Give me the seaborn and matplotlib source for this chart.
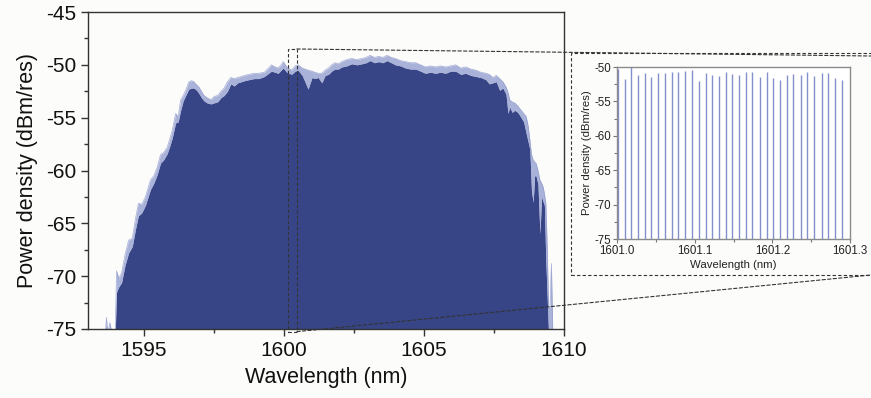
import numpy as np
import pandas as pd
import matplotlib
matplotlib.use("Agg")
import matplotlib.pyplot as plt
import seaborn as sns
from matplotlib.patches import Rectangle, ConnectionPatch
from matplotlib.ticker import MultipleLocator, FixedLocator

# ---------------- data ----------------
wavelength = [1593.50, 1593.62, 1593.66, 1593.70, 1593.78, 1593.86, 1593.97, 1594.02, 1594.10, 1594.20,
              1594.32, 1594.45, 1594.58, 1594.70, 1594.80, 1594.92, 1595.05, 1595.23, 1595.35, 1595.47,
              1595.59, 1595.70, 1595.83, 1595.92, 1596.01, 1596.13, 1596.22, 1596.31, 1596.40, 1596.49,
              1596.60, 1596.70, 1596.78, 1596.88, 1596.96, 1597.05, 1597.14, 1597.25, 1597.39, 1597.50,
              1597.63, 1597.75, 1597.86, 1597.98, 1598.10, 1598.22, 1598.35, 1598.47, 1598.59, 1598.75,
              1598.94, 1599.10, 1599.30, 1599.45, 1599.55, 1599.68, 1599.79, 1599.90, 1599.97, 1600.10,
              1600.27, 1600.40, 1600.50, 1600.65, 1600.86, 1601.00, 1601.10, 1601.22, 1601.35, 1601.47,
              1601.59, 1601.70, 1601.82, 1601.94, 1602.06, 1602.24, 1602.42, 1602.60, 1602.78, 1602.93,
              1603.08, 1603.23, 1603.38, 1603.53, 1603.68, 1603.83, 1603.98, 1604.16, 1604.34, 1604.52,
              1604.70, 1604.88, 1605.05, 1605.23, 1605.41, 1605.59, 1605.77, 1605.95, 1606.13, 1606.31,
              1606.49, 1606.67, 1606.85, 1607.03, 1607.21, 1607.33, 1607.46, 1607.58, 1607.70, 1607.82,
              1607.93, 1608.00, 1608.06, 1608.15, 1608.24, 1608.35, 1608.47, 1608.56, 1608.65, 1608.72,
              1608.78, 1608.84, 1608.90, 1608.95, 1609.00, 1609.07, 1609.14, 1609.20, 1609.26, 1609.30,
              1609.35, 1609.40, 1609.45, 1609.50, 1609.55, 1609.60, 1609.80]
power_max = [-75.5, -75.5, -73.9, -75.5, -74.4, -75.5, -75.5, -69.5, -70.2, -69.7,
             -68.0, -66.6, -66.4, -64.5, -63.1, -63.2, -62.5, -60.9, -60.5, -59.7,
             -58.5, -58.3, -57.8, -57.0, -56.2, -54.6, -54.9, -53.3, -52.9, -52.4,
             -51.6, -51.5, -51.6, -51.9, -52.1, -52.5, -52.9, -53.1, -53.3, -53.0,
             -52.9, -52.5, -52.2, -51.6, -51.2, -51.3, -51.2, -51.1, -51.0, -50.9,
             -50.8, -50.8, -50.7, -50.3, -50.0, -50.2, -50.3, -50.0, -49.7, -50.2,
             -50.5, -50.1, -50.0, -50.3, -50.5, -50.6, -50.7, -50.8, -50.8, -50.5,
             -50.3, -50.0, -49.8, -49.9, -49.7, -49.5, -49.4, -49.5, -49.4, -49.3,
             -49.1, -49.3, -49.2, -49.3, -49.1, -49.3, -49.4, -49.6, -49.7, -49.8,
             -49.8, -50.0, -50.2, -50.1, -50.2, -50.1, -50.2, -50.1, -50.0, -50.3,
             -50.2, -50.4, -50.5, -50.7, -50.8, -50.9, -51.2, -51.0, -51.3, -51.6,
             -52.1, -52.6, -53.3, -53.5, -53.6, -53.9, -54.3, -54.6, -54.9, -55.8,
             -57.1, -58.5, -59.0, -59.2, -59.3, -60.0, -60.9, -61.2, -61.6, -62.2,
             -63.1, -67.2, -72.9, -73.0, -68.8, -75.5, -75.5]
power_min = [-75.5, -75.5, -74.6, -75.5, -75.0, -75.5, -75.5, -71.5, -71.0, -70.6,
             -69.0, -67.8, -67.2, -65.5, -64.3, -64.0, -63.3, -61.8, -61.2, -60.4,
             -59.3, -59.0, -58.4, -57.7, -56.9, -55.5, -55.4, -54.3, -53.4, -52.9,
             -52.3, -52.2, -52.2, -52.4, -52.7, -53.1, -53.4, -53.6, -53.7, -53.6,
             -53.5, -53.1, -52.9, -52.5, -51.8, -52.0, -51.7, -51.6, -51.5, -51.4,
             -51.3, -51.3, -51.1, -50.8, -50.6, -50.7, -50.8, -50.5, -50.3, -50.7,
             -50.9, -50.6, -50.5, -51.0, -52.3, -51.2, -51.3, -51.2, -51.7, -51.0,
             -50.9, -50.6, -50.4, -50.4, -50.2, -50.1, -49.9, -50.0, -49.9, -49.8,
             -49.6, -49.8, -49.7, -49.8, -49.6, -49.8, -50.0, -50.1, -50.3, -50.4,
             -50.4, -50.6, -50.8, -50.7, -50.8, -50.7, -50.8, -50.6, -50.6, -50.9,
             -50.8, -51.0, -51.1, -51.2, -51.4, -51.8, -51.7, -51.6, -52.4, -52.2,
             -52.8, -54.6, -54.0, -54.5, -54.3, -54.5, -55.0, -55.4, -56.5, -57.3,
             -58.0, -62.0, -63.0, -60.5, -60.5, -61.3, -66.0, -62.5, -63.0, -63.3,
             -68.5, -72.0, -75.5, -75.5, -75.5, -75.5, -75.5]

comb_wavelength = [1601.0009, 1601.0099, 1601.0180, 1601.0266, 1601.0356, 1601.0441, 1601.0527,
                   1601.0613, 1601.0703, 1601.0789, 1601.0874, 1601.0964, 1601.1050, 1601.1140,
                   1601.1226, 1601.1311, 1601.1401, 1601.1487, 1601.1577, 1601.1659, 1601.1744,
                   1601.1843, 1601.1929, 1601.2014, 1601.2100, 1601.2186, 1601.2271, 1601.2366,
                   1601.2451, 1601.2537, 1601.2636, 1601.2721, 1601.2807, 1601.2901]
comb_power = [-50.3, -51.7, -50.0, -51.1, -50.8, -51.4, -50.8,
              -50.8, -50.7, -50.7, -50.6, -50.5, -52.1, -50.8,
              -51.1, -51.3, -50.7, -51.0, -51.1, -50.7, -50.7,
              -51.4, -50.7, -51.6, -51.9, -51.2, -51.0, -51.2,
              -50.7, -51.3, -50.8, -50.9, -51.6, -51.9]

main_xticks = [1595, 1600, 1605, 1610]
main_yticks = [-75, -70, -65, -60, -55, -50, -45]
inset_xticks = [1601.0, 1601.1, 1601.2, 1601.3]
inset_xticklabels = ["1601.0", "1601.1", "1601.2", "1601.3"]
inset_yticks = [-75, -70, -65, -60, -55, -50]

# ---------------- style ----------------
sns.set_theme(style="ticks")
plt.rcParams["font.family"] = ["Liberation Sans", "DejaVu Sans"]
plt.rcParams["axes.unicode_minus"] = False

W, H = 871, 398
bg = "#fcfcfb"
dark = "#374587"
light = "#8e99cd"
frame = "#333333"

fig = plt.figure(figsize=(W / 100, H / 100), dpi=100, facecolor=bg)

# ---------------- main axes ----------------
ax = fig.add_axes([88 / W, 1 - 329 / H, (564 - 88) / W, (329 - 12) / H])
ax.set_facecolor(bg)
df = pd.DataFrame({"wl": wavelength, "pmax": power_max, "pmin": power_min})
ax.fill_between(df["wl"], -76, df["pmin"], color=dark, lw=0)
ax.fill_between(df["wl"], df["pmin"], df["pmax"], color=light, lw=0, alpha=0.75)
sns.lineplot(data=df, x="wl", y="pmax", ax=ax, color=light, lw=0.5, alpha=0.8)
ax.set_xlim(1593, 1610)
ax.set_ylim(-75, -45)
ax.xaxis.set_major_locator(FixedLocator(main_xticks))
ax.yaxis.set_major_locator(FixedLocator(main_yticks))
ax.xaxis.set_minor_locator(MultipleLocator(2.5))
ax.yaxis.set_minor_locator(MultipleLocator(2.5))
ax.tick_params(which="major", direction="out", length=5, width=1, color=frame,
               labelsize=15, pad=3.5, labelcolor="#111111")
ax.tick_params(which="minor", direction="out", length=3, width=1, color=frame)
for s in ax.spines.values():
    s.set_color(frame)
    s.set_linewidth(1)
ax.set_xlabel("Wavelength (nm)", fontsize=15.5, labelpad=5, color="#111111")
ax.set_ylabel("Power density (dBm/res)", fontsize=15.5, labelpad=6, color="#111111")

# zoom rectangle on main plot
ax.add_patch(Rectangle((1600.16, -75.25), 0.30, 26.75, fill=False, ls=(0, (3, 2)),
                       lw=0.8, ec="#333333", clip_on=False, zorder=5))

# ---------------- inset axes ----------------
ax2 = fig.add_axes([617 / W, 1 - 239 / H, (850 - 617) / W, (239 - 67) / H])
ax2.set_facecolor("white")
ax2.vlines(comb_wavelength, -75, comb_power, color="#8490cb", lw=1.0)
ax2.set_xlim(1601.0, 1601.3)
ax2.set_ylim(-75, -50)
ax2.xaxis.set_major_locator(FixedLocator(inset_xticks))
ax2.set_xticklabels(inset_xticklabels)
ax2.yaxis.set_major_locator(FixedLocator(inset_yticks))
ax2.xaxis.set_minor_locator(MultipleLocator(0.05))
ax2.yaxis.set_minor_locator(MultipleLocator(2.5))
ax2.tick_params(which="major", direction="out", length=3, width=0.8, color="#777777",
                labelsize=8.3, pad=1.2, labelcolor="#222222")
ax2.tick_params(which="minor", direction="out", length=2, width=0.8, color="#777777")
for s in ax2.spines.values():
    s.set_color("#8a8a8a")
    s.set_linewidth(1)
ax2.set_xlabel("Wavelength (nm)", fontsize=8.2, labelpad=2, color="#222222")
ax2.set_ylabel("Power density (dBm/res)", fontsize=8.2, labelpad=1.5, color="#222222")

# dashed box around inset
fig.add_artist(Rectangle((571 / W, 1 - 275 / H), (880 - 571) / W, (275 - 53) / H,
                         transform=fig.transFigure, fill=False, ls=(0, (3, 2)),
                         lw=0.8, ec="#333333"))

# connecting dashed lines
for ya, yb in [(-48.5, 56), (-75.25, 275)]:
    cp = ConnectionPatch(xyA=(1600.46, ya), coordsA=ax.transData,
                         xyB=(1.0, 1 - yb / H), coordsB=fig.transFigure,
                         ls=(0, (3, 2)), lw=0.8, color="#333333")
    fig.add_artist(cp)

fig.savefig("out.png", dpi=100, facecolor=fig.get_facecolor())
